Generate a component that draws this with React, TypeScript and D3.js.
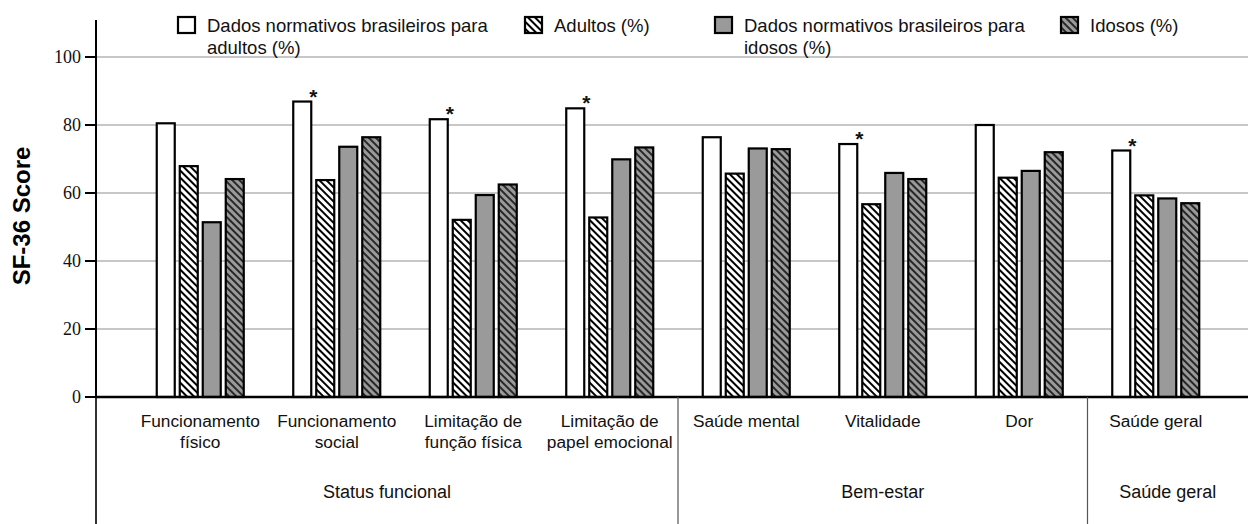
import React from "react";
import * as d3 from "d3";

const categories = [
  "Funcionamento físico",
  "Funcionamento social",
  "Limitação de função física",
  "Limitação de papel emocional",
  "Saúde mental",
  "Vitalidade",
  "Dor",
  "Saúde geral",
];
const categoryLines = [
  ["Funcionamento", "físico"],
  ["Funcionamento", "social"],
  ["Limitação de", "função física"],
  ["Limitação de", "papel emocional"],
  ["Saúde mental"],
  ["Vitalidade"],
  ["Dor"],
  ["Saúde geral"],
];
const seriesKeys = ["normAdultos", "adultos", "normIdosos", "idosos"];
const normAdultos = [80.5, 86.9, 81.7, 84.9, 76.4, 74.4, 80.0, 72.5];
const adultos = [67.9, 63.8, 52.1, 52.8, 65.7, 56.7, 64.5, 59.3];
const normIdosos = [51.4, 73.6, 59.4, 69.9, 73.1, 65.9, 66.5, 58.4];
const idosos = [64.1, 76.4, 62.5, 73.4, 72.9, 64.1, 72.0, 57.0];
const significant = [false, true, true, true, false, true, false, true];
const yTicks = [0, 20, 40, 60, 80, 100];
const groups = [
  { label: "Status funcional", from: 0, to: 4 },
  { label: "Bem-estar", from: 4, to: 7 },
  { label: "Saúde geral", from: 7, to: 8 },
];
const legendItems = [
  { key: "normAdultos", lines: ["Dados normativos brasileiros para", "adultos (%)"] },
  { key: "adultos", lines: ["Adultos (%)"] },
  { key: "normIdosos", lines: ["Dados normativos brasileiros para", "idosos (%)"] },
  { key: "idosos", lines: ["Idosos (%)"] },
];
const legendX = [178, 525, 715, 1061];

const seriesValues: Record<string, number[]> = { normAdultos, adultos, normIdosos, idosos };
const fills: Record<string, string> = {
  normAdultos: "#ffffff",
  adultos: "url(#hatchW)",
  normIdosos: "#9a9a9a",
  idosos: "url(#hatchG)",
};

const W = 1248;
const H = 524;
const axisX = 96;

export default function App() {
  const y = d3.scaleLinear().domain([0, 100]).range([397, 57]);
  const x0 = d3.scaleBand<string>().domain(categories).range([132, 1224]).paddingInner(0).paddingOuter(0);
  const innerW = 87;
  const x1 = d3.scaleBand<string>().domain(seriesKeys).range([0, innerW]).paddingInner(5 / 23).paddingOuter(0);
  const groupStart = (c: string) => (x0(c) as number) + (x0.bandwidth() - innerW) / 2;
  const sans = "Arial, 'Liberation Sans', Helvetica, sans-serif";
  const serif = "'Liberation Serif', 'DejaVu Serif', serif";
  const boundary = (i: number) => 132 + i * x0.step();

  return (
    <svg width={W} height={H} style={{ position: "absolute", left: 0, top: 0, background: "#fff" }}>
      <defs>
        <pattern id="hatchW" patternUnits="userSpaceOnUse" width={5} height={5} patternTransform="rotate(-45)">
          <rect width={5} height={5} fill="#fff" />
          <line x1={1} y1={0} x2={1} y2={5} stroke="#000" strokeWidth={2} />
        </pattern>
        <pattern id="hatchG" patternUnits="userSpaceOnUse" width={5} height={5} patternTransform="rotate(-45)">
          <rect width={5} height={5} fill="#9a9a9a" />
          <line x1={1} y1={0} x2={1} y2={5} stroke="#000" strokeWidth={1.5} />
        </pattern>
      </defs>

      {/* gridlines */}
      {yTicks.filter((t) => t > 0).map((t) => (
        <line key={t} x1={axisX} x2={W} y1={y(t)} y2={y(t)} stroke="#b5b5b5" strokeWidth={1.5} />
      ))}

      {/* bars */}
      {categories.map((c, i) => (
        <g key={c} transform={`translate(${groupStart(c)},0)`}>
          {seriesKeys.map((k) => {
            const v = seriesValues[k][i];
            return (
              <rect
                key={k}
                x={x1(k) as number}
                y={y(v)}
                width={x1.bandwidth()}
                height={y(0) - y(v)}
                fill={fills[k]}
                stroke="#000"
                strokeWidth={2.2}
              />
            );
          })}
          {significant[i] && (
            <text
              x={(x1("normAdultos") as number) + x1.bandwidth() + 2}
              y={y(normAdultos[i]) + 2}
              textAnchor="middle"
              fontFamily={sans}
              fontWeight="bold"
              fontSize={21}
              fill="#111"
            >
              *
            </text>
          )}
        </g>
      ))}

      {/* y axis */}
      <line x1={axisX} x2={axisX} y1={20} y2={H} stroke="#000" strokeWidth={2} />
      <line x1={axisX} x2={axisX} y1={y(0)} y2={H} stroke="#555" strokeWidth={1.2} />
      {yTicks.map((t) => (
        <g key={t}>
          <line x1={85} x2={axisX} y1={y(t)} y2={y(t)} stroke="#000" strokeWidth={2} />
          <text x={81} y={y(t) + 6} textAnchor="end" fontFamily={serif} fontSize={18} fill="#111">
            {t}
          </text>
        </g>
      ))}
      <line x1={axisX} x2={W} y1={y(0)} y2={y(0)} stroke="#000" strokeWidth={2.5} />
      <text
        transform={`translate(30,${216}) rotate(-90)`}
        textAnchor="middle"
        fontFamily={sans}
        fontWeight="bold"
        fontSize={24}
        fill="#000"
      >
        SF-36 Score
      </text>

      {/* category labels */}
      {categories.map((c, i) => (
        <text
          key={c}
          x={(x0(c) as number) + x0.bandwidth() / 2}
          y={426.5}
          textAnchor="middle"
          fontFamily={sans}
          fontSize={17.3}
          fill="#111"
        >
          {categoryLines[i].map((ln, j) => (
            <tspan key={j} x={(x0(c) as number) + x0.bandwidth() / 2} dy={j === 0 ? 0 : 21}>
              {ln}
            </tspan>
          ))}
        </text>
      ))}

      {/* group separators and labels */}
      {groups.slice(1).map((g) => (
        <line key={g.label} x1={boundary(g.from)} x2={boundary(g.from)} y1={y(0)} y2={H} stroke="#555" strokeWidth={1.2} />
      ))}
      {groups.map((g, i) => {
        const left = i === 0 ? axisX : boundary(g.from);
        const right = i === groups.length - 1 ? W : boundary(g.to);
        return (
          <text key={g.label} x={(left + right) / 2} y={498} textAnchor="middle" fontFamily={sans} fontSize={18} fill="#111">
            {g.label}
          </text>
        );
      })}

      {/* legend */}
      {legendItems.map((it, i) => (
        <g key={it.key}>
          <rect x={legendX[i]} y={17} width={17} height={16} fill={fills[it.key]} stroke="#000" strokeWidth={2.2} />
          <text x={legendX[i] + 29} y={31.5} fontFamily={sans} fontSize={18.5} fill="#111">
            {it.lines.map((ln, j) => (
              <tspan key={j} x={legendX[i] + 29} dy={j === 0 ? 0 : 22}>
                {ln}
              </tspan>
            ))}
          </text>
        </g>
      ))}
    </svg>
  );
}
